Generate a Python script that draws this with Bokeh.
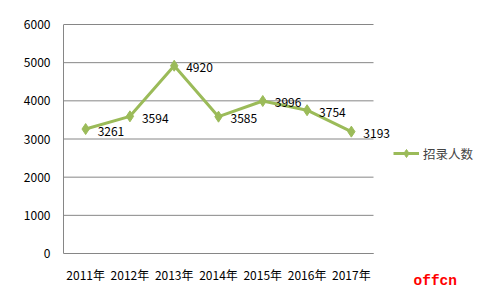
from bokeh.plotting import figure
from bokeh.models import (Range1d, Legend, LegendItem, Label, FixedTicker, ColumnDataSource)
from bokeh.embed import file_html
from bokeh.resources import INLINE
from bokeh.core.properties import value

years = ["2011年", "2012年", "2013年", "2014年", "2015年", "2016年", "2017年"]
counts = [3261, 3594, 4920, 3585, 3996, 3754, 3193]
count_labels = [str(v) for v in counts]
series_name = "招录人数"
y_ticks = [0, 1000, 2000, 3000, 4000, 5000, 6000]
watermark = "offcn"

GREEN = "#9BBB59"
GRAY = "#868686"
FONT = "Noto Sans CJK SC"

W, H = 496, 288
LEFT, TOP = 63, 20
PLOT_W, PLOT_H = 310, 229          # size of the chart area proper
Y_MAX = y_ticks[-1]
py = PLOT_H / Y_MAX                # px per unit (y)
px = PLOT_W / len(years)           # px per category (x)

xs = list(range(len(years)))
src = ColumnDataSource(dict(x=xs, y=counts, t=count_labels))

# frame spans the whole area right of the y axis so nothing gets clipped
x_start = -0.5
x_end = x_start + (W - LEFT) / px
y_end = Y_MAX + (24 - TOP) / py
y_start = -(H - 24 - PLOT_H) / py

p = figure(width=W, height=H, x_range=Range1d(x_start, x_end), y_range=Range1d(y_start, y_end),
           output_backend="svg", toolbar_location=None,
           min_border_left=LEFT, min_border_right=0, min_border_top=TOP, min_border_bottom=0)
p.outline_line_color = None
p.background_fill_color = "white"
p.border_fill_color = "white"
p.grid.visible = False

# horizontal gridlines limited to the category span
n = len(y_ticks)
p.segment(x0=[x_start] * n, x1=[len(years) - 0.5] * n, y0=y_ticks, y1=y_ticks,
          line_color=GRAY, line_width=1)

l = p.line("x", "y", source=src, line_color=GREEN, line_width=3)
s = p.scatter("x", "y", source=src, marker="diamond", size=11, fill_color=GREEN, line_color=GREEN)
p.text(x="x", y="y", text="t", source=src, x_offset=12, y_offset=2,
       text_baseline="middle", text_align="left", text_font=value(FONT),
       text_font_size="12px", text_color="#000000")

# y axis
p.yaxis.ticker = FixedTicker(ticks=y_ticks)
p.yaxis.bounds = (0, Y_MAX)
# x axis fixed at y=0
p.xaxis.fixed_location = 0
p.xaxis.bounds = (x_start, len(years) - 0.5)
p.xaxis.ticker = FixedTicker(ticks=xs)
p.xaxis.major_label_overrides = {i: y for i, y in enumerate(years)}

for ax in (p.xaxis, p.yaxis):
    ax.axis_line_color = GRAY
    ax.major_tick_line_color = None
    ax.minor_tick_line_color = None
    ax.major_tick_out = 0
    ax.major_tick_in = 0
    ax.major_label_text_font = FONT
    ax.major_label_text_font_size = "12px"
    ax.major_label_text_color = "#000000"
p.yaxis.major_label_standoff = 13
p.xaxis.major_label_standoff = 12

legend = Legend(items=[LegendItem(label=series_name, renderers=[l, s])],
                location=(330, 125), glyph_width=26, glyph_height=20, label_standoff=4,
                padding=0, margin=0, border_line_color=None, background_fill_alpha=0,
                label_text_font=FONT, label_text_font_size="12.5px")
p.add_layout(legend)

p.add_layout(Label(x=350, y=8, x_units="screen", y_units="screen", text=watermark,
                   text_baseline="alphabetic",
                   text_font="Liberation Mono", text_font_size="14.5px", text_font_style="bold",
                   text_color="#FF0000"))

open("out.html", "w").write(file_html(p, INLINE))
